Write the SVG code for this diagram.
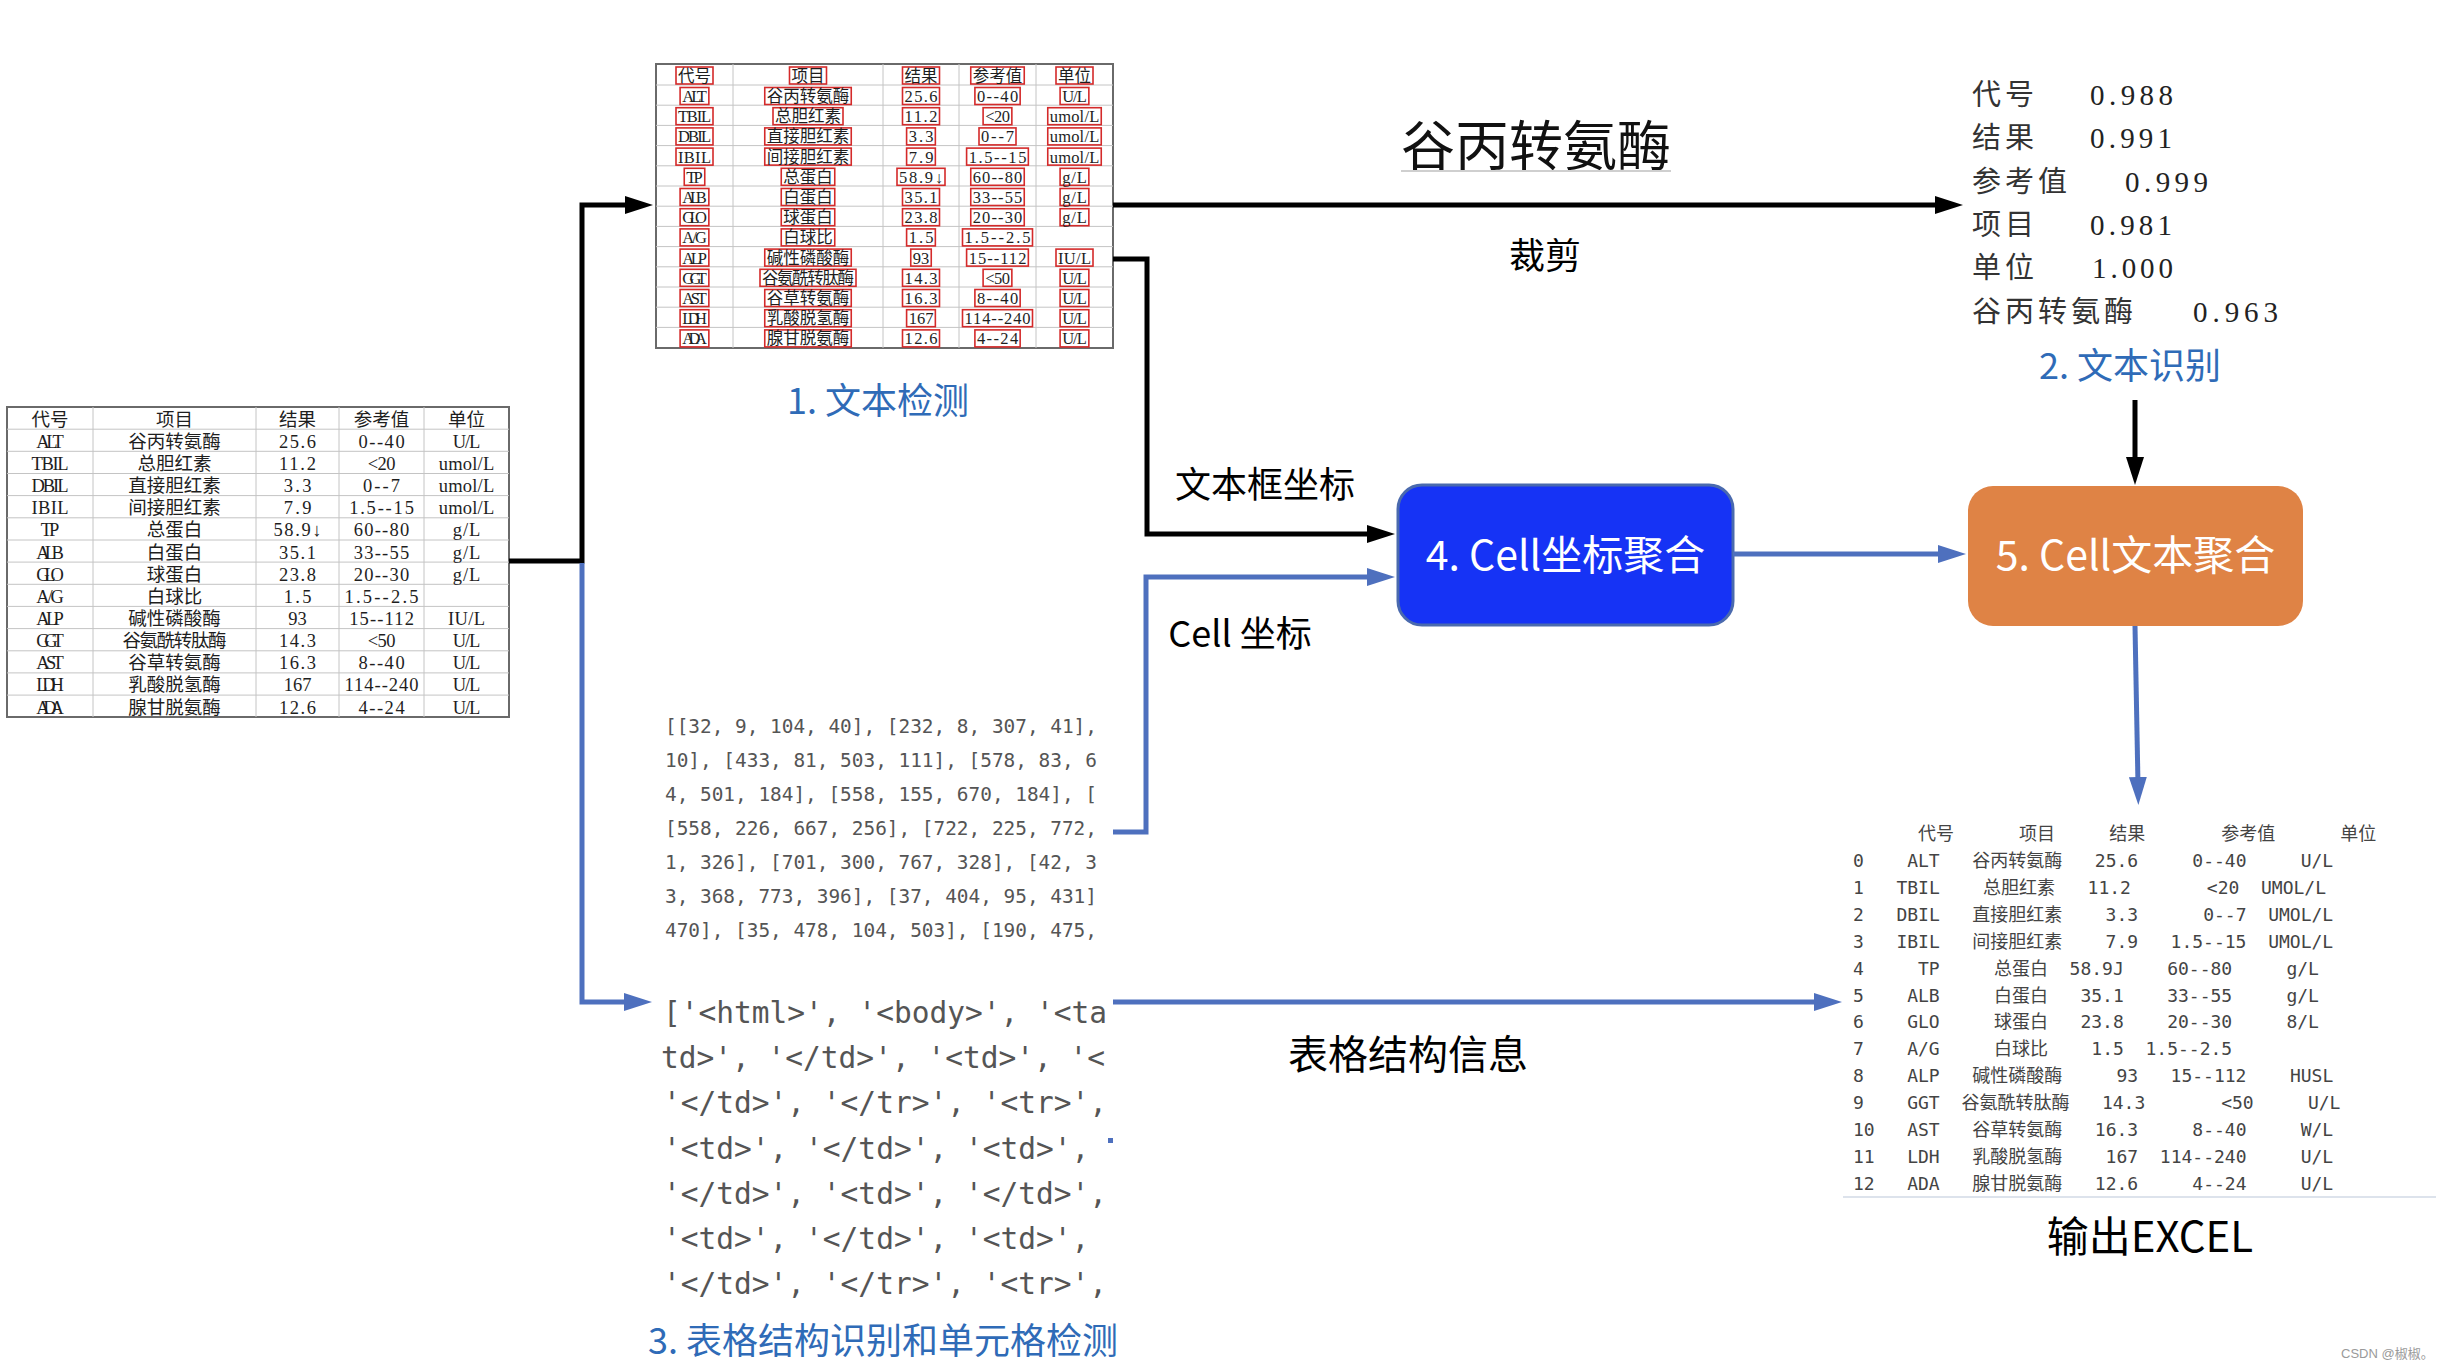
<svg xmlns="http://www.w3.org/2000/svg" width="2446" height="1370" viewBox="0 0 2446 1370">
<style>
.tl{font-family:"Liberation Serif","Noto Sans CJK SC",serif;font-size:18.5px;fill:#1e1e1e;text-anchor:middle}
.tt{font-family:"Liberation Serif","Noto Sans CJK SC",serif;font-size:16.5px;fill:#1e1e1e;text-anchor:middle}
.rb{fill:none;stroke:#d42a2a;stroke-width:1.6}
.grid{stroke:#c4c4c4;stroke-width:1;fill:none}
.frame{fill:#fff;stroke:#6a6a6a;stroke-width:2}
.lbl{font-family:"Noto Sans CJK SC","Noto Sans",sans-serif;font-size:36px;fill:#000;text-anchor:middle}
.step{font-family:"Noto Sans CJK SC","Noto Sans",sans-serif;font-size:36px;fill:#2F6BB7;text-anchor:middle}
.rec{font-family:"Noto Sans CJK SC",sans-serif;font-size:29px;fill:#333;letter-spacing:4px}
.num{font-family:"Liberation Serif",serif;font-size:29px;fill:#222}
.code1{font-family:"DejaVu Sans Mono","Liberation Mono",monospace;font-size:19.4px;fill:#555}
.code2{font-family:"DejaVu Sans Mono","Liberation Mono",monospace;font-size:29.5px;fill:#555}
.xl{font-family:"DejaVu Sans Mono","Noto Sans CJK SC",monospace;font-size:18px;fill:#444}
.ck{stroke:#000;stroke-width:5;fill:none}
.cb{stroke:#4E70BE;stroke-width:5;fill:none}
.boxtxt{font-family:"Noto Sans CJK SC","Noto Sans",sans-serif;font-size:41px;fill:#fff;text-anchor:middle}
</style>
<defs>
<marker id="ak" markerWidth="28" markerHeight="18" refX="8" refY="9" orient="auto" markerUnits="userSpaceOnUse"><path d="M0,0 L28,9 L0,18 z" fill="#000"/></marker>
<marker id="ab" markerWidth="28" markerHeight="18" refX="8" refY="9" orient="auto" markerUnits="userSpaceOnUse"><path d="M0,0 L28,9 L0,18 z" fill="#4E70BE"/></marker>
<clipPath id="clipNum"><rect x="640" y="690" width="457" height="270"/></clipPath>
<clipPath id="clipHtml"><rect x="640" y="985" width="467" height="330"/></clipPath>
</defs>
<rect width="2446" height="1370" fill="#fff"/>

<!-- Input table -->
<g id="input-table">
<rect class="frame" x="7" y="407" width="502" height="310"/>
<path class="grid" d="M7,429.2H509M7,451.3H509M7,473.5H509M7,495.6H509M7,517.8H509M7,540H509M7,562.1H509M7,584.3H509M7,606.4H509M7,628.6H509M7,650.8H509M7,672.9H509M7,695.1H509M93,407V717M256,407V717M339,407V717M424,407V717"/>
<g class="tl">
<g transform="translate(0,425.5)"><text x="50">代号</text><text x="174.5">项目</text><text x="297.5">结果</text><text x="381.5">参考值</text><text x="466.5">单位</text></g>
<g transform="translate(0,447.7)"><text x="50" textLength="27.75">ALT</text><text x="174.5">谷丙转氨酶</text><text x="297.5" textLength="37">25.6</text><text x="381.5" textLength="46.25">0--40</text><text x="466.5" textLength="27.75">U/L</text></g>
<g transform="translate(0,469.8)"><text x="50" textLength="37">TBIL</text><text x="174.5">总胆红素</text><text x="297.5" textLength="37">11.2</text><text x="381.5" textLength="27.75">&lt;20</text><text x="466.5" textLength="55.5">umol/L</text></g>
<g transform="translate(0,492)"><text x="50" textLength="37">DBIL</text><text x="174.5">直接胆红素</text><text x="297.5" textLength="27.75">3.3</text><text x="381.5" textLength="37">0--7</text><text x="466.5" textLength="55.5">umol/L</text></g>
<g transform="translate(0,514.1)"><text x="50" textLength="37">IBIL</text><text x="174.5">间接胆红素</text><text x="297.5" textLength="27.75">7.9</text><text x="381.5" textLength="64.75">1.5--15</text><text x="466.5" textLength="55.5">umol/L</text></g>
<g transform="translate(0,536.3)"><text x="50" textLength="18.5">TP</text><text x="174.5">总蛋白</text><text x="297.5" textLength="48">58.9↓</text><text x="381.5" textLength="55.5">60--80</text><text x="466.5" textLength="27.75">g/L</text></g>
<g transform="translate(0,558.5)"><text x="50" textLength="27.75">ALB</text><text x="174.5">白蛋白</text><text x="297.5" textLength="37">35.1</text><text x="381.5" textLength="55.5">33--55</text><text x="466.5" textLength="27.75">g/L</text></g>
<g transform="translate(0,580.6)"><text x="50" textLength="27.75">GLO</text><text x="174.5">球蛋白</text><text x="297.5" textLength="37">23.8</text><text x="381.5" textLength="55.5">20--30</text><text x="466.5" textLength="27.75">g/L</text></g>
<g transform="translate(0,602.8)"><text x="50" textLength="27.75">A/G</text><text x="174.5">白球比</text><text x="297.5" textLength="27.75">1.5</text><text x="381.5" textLength="74">1.5--2.5</text></g>
<g transform="translate(0,624.9)"><text x="50" textLength="27.75">ALP</text><text x="174.5">碱性磷酸酶</text><text x="297.5" textLength="18.5">93</text><text x="381.5" textLength="64.75">15--112</text><text x="466.5" textLength="37">IU/L</text></g>
<g transform="translate(0,647.1)"><text x="50" textLength="27.75">GGT</text><text x="174.5" textLength="104">谷氨酰转肽酶</text><text x="297.5" textLength="37">14.3</text><text x="381.5" textLength="27.75">&lt;50</text><text x="466.5" textLength="27.75">U/L</text></g>
<g transform="translate(0,669.3)"><text x="50" textLength="27.75">AST</text><text x="174.5">谷草转氨酶</text><text x="297.5" textLength="37">16.3</text><text x="381.5" textLength="46.25">8--40</text><text x="466.5" textLength="27.75">U/L</text></g>
<g transform="translate(0,691.4)"><text x="50" textLength="27.75">LDH</text><text x="174.5">乳酸脱氢酶</text><text x="297.5" textLength="27.75">167</text><text x="381.5" textLength="74">114--240</text><text x="466.5" textLength="27.75">U/L</text></g>
<g transform="translate(0,713.6)"><text x="50" textLength="27.75">ADA</text><text x="174.5">腺甘脱氨酶</text><text x="297.5" textLength="37">12.6</text><text x="381.5" textLength="46.25">4--24</text><text x="466.5" textLength="27.75">U/L</text></g>
</g>
</g>

<!-- Step 1: text detection -->
<g id="step1-text-detection">
<rect class="frame" x="656" y="64" width="457" height="284"/>
<path class="grid" d="M656,85H1113M656,105.2H1113M656,125.4H1113M656,145.6H1113M656,165.8H1113M656,186H1113M656,206.2H1113M656,226.4H1113M656,246.6H1113M656,266.8H1113M656,287H1113M656,307.2H1113M656,327.4H1113M733,64V348M883,64V348M959,64V348M1036,64V348"/>
<g class="tt">
<g transform="translate(0,64)"><rect class="rb" x="676" y="3" width="37" height="17"/><rect class="rb" x="789.5" y="3" width="37" height="17"/><rect class="rb" x="902.5" y="3" width="37" height="17"/><rect class="rb" x="970.75" y="3" width="53.5" height="17"/><rect class="rb" x="1056" y="3" width="37" height="17"/><text x="694.5" y="18">代号</text><text x="808" y="18">项目</text><text x="921" y="18">结果</text><text x="997.5" y="18">参考值</text><text x="1074.5" y="18">单位</text></g>
<g transform="translate(0,85)"><rect class="rb" x="680.1" y="2.5" width="28.75" height="17"/><rect class="rb" x="764.75" y="2.5" width="86.5" height="17"/><rect class="rb" x="902.5" y="2.5" width="37" height="17"/><rect class="rb" x="974.9" y="2.5" width="45.25" height="17"/><rect class="rb" x="1060.1" y="2.5" width="28.75" height="17"/><text x="694.5" y="17" textLength="24.75">ALT</text><text x="808" y="17">谷丙转氨酶</text><text x="921" y="17" textLength="33">25.6</text><text x="997.5" y="17" textLength="41.25">0--40</text><text x="1074.5" y="17" textLength="24.75">U/L</text></g>
<g transform="translate(0,105.2)"><rect class="rb" x="676" y="2.5" width="37" height="17"/><rect class="rb" x="773" y="2.5" width="70" height="17"/><rect class="rb" x="902.5" y="2.5" width="37" height="17"/><rect class="rb" x="983.1" y="2.5" width="28.75" height="17"/><rect class="rb" x="1047.75" y="2.5" width="53.5" height="17"/><text x="694.5" y="17" textLength="33">TBIL</text><text x="808" y="17">总胆红素</text><text x="921" y="17" textLength="33">11.2</text><text x="997.5" y="17" textLength="24.75">&lt;20</text><text x="1074.5" y="17" textLength="49.5">umol/L</text></g>
<g transform="translate(0,125.4)"><rect class="rb" x="676" y="2.5" width="37" height="17"/><rect class="rb" x="764.75" y="2.5" width="86.5" height="17"/><rect class="rb" x="906.6" y="2.5" width="28.75" height="17"/><rect class="rb" x="979" y="2.5" width="37" height="17"/><rect class="rb" x="1047.75" y="2.5" width="53.5" height="17"/><text x="694.5" y="17" textLength="33">DBIL</text><text x="808" y="17">直接胆红素</text><text x="921" y="17" textLength="24.75">3.3</text><text x="997.5" y="17" textLength="33">0--7</text><text x="1074.5" y="17" textLength="49.5">umol/L</text></g>
<g transform="translate(0,145.6)"><rect class="rb" x="676" y="2.5" width="37" height="17"/><rect class="rb" x="764.75" y="2.5" width="86.5" height="17"/><rect class="rb" x="906.6" y="2.5" width="28.75" height="17"/><rect class="rb" x="966.6" y="2.5" width="61.75" height="17"/><rect class="rb" x="1047.75" y="2.5" width="53.5" height="17"/><text x="694.5" y="17" textLength="33">IBIL</text><text x="808" y="17">间接胆红素</text><text x="921" y="17" textLength="24.75">7.9</text><text x="997.5" y="17" textLength="57.75">1.5--15</text><text x="1074.5" y="17" textLength="49.5">umol/L</text></g>
<g transform="translate(0,165.8)"><rect class="rb" x="684.25" y="2.5" width="20.5" height="17"/><rect class="rb" x="781.25" y="2.5" width="53.5" height="17"/><rect class="rb" x="897" y="2.5" width="48" height="17"/><rect class="rb" x="970.75" y="2.5" width="53.5" height="17"/><rect class="rb" x="1060.1" y="2.5" width="28.75" height="17"/><text x="694.5" y="17" textLength="16.5">TP</text><text x="808" y="17">总蛋白</text><text x="921" y="17" textLength="44">58.9↓</text><text x="997.5" y="17" textLength="49.5">60--80</text><text x="1074.5" y="17" textLength="24.75">g/L</text></g>
<g transform="translate(0,186)"><rect class="rb" x="680.1" y="2.5" width="28.75" height="17"/><rect class="rb" x="781.25" y="2.5" width="53.5" height="17"/><rect class="rb" x="902.5" y="2.5" width="37" height="17"/><rect class="rb" x="970.75" y="2.5" width="53.5" height="17"/><rect class="rb" x="1060.1" y="2.5" width="28.75" height="17"/><text x="694.5" y="17" textLength="24.75">ALB</text><text x="808" y="17">白蛋白</text><text x="921" y="17" textLength="33">35.1</text><text x="997.5" y="17" textLength="49.5">33--55</text><text x="1074.5" y="17" textLength="24.75">g/L</text></g>
<g transform="translate(0,206.2)"><rect class="rb" x="680.1" y="2.5" width="28.75" height="17"/><rect class="rb" x="781.25" y="2.5" width="53.5" height="17"/><rect class="rb" x="902.5" y="2.5" width="37" height="17"/><rect class="rb" x="970.75" y="2.5" width="53.5" height="17"/><rect class="rb" x="1060.1" y="2.5" width="28.75" height="17"/><text x="694.5" y="17" textLength="24.75">GLO</text><text x="808" y="17">球蛋白</text><text x="921" y="17" textLength="33">23.8</text><text x="997.5" y="17" textLength="49.5">20--30</text><text x="1074.5" y="17" textLength="24.75">g/L</text></g>
<g transform="translate(0,226.4)"><rect class="rb" x="680.1" y="2.5" width="28.75" height="17"/><rect class="rb" x="781.25" y="2.5" width="53.5" height="17"/><rect class="rb" x="906.6" y="2.5" width="28.75" height="17"/><rect class="rb" x="962.5" y="2.5" width="70" height="17"/><text x="694.5" y="17" textLength="24.75">A/G</text><text x="808" y="17">白球比</text><text x="921" y="17" textLength="24.75">1.5</text><text x="997.5" y="17" textLength="66">1.5--2.5</text></g>
<g transform="translate(0,246.6)"><rect class="rb" x="680.1" y="2.5" width="28.75" height="17"/><rect class="rb" x="764.75" y="2.5" width="86.5" height="17"/><rect class="rb" x="910.75" y="2.5" width="20.5" height="17"/><rect class="rb" x="966.6" y="2.5" width="61.75" height="17"/><rect class="rb" x="1056" y="2.5" width="37" height="17"/><text x="694.5" y="17" textLength="24.75">ALP</text><text x="808" y="17">碱性磷酸酶</text><text x="921" y="17" textLength="16.5">93</text><text x="997.5" y="17" textLength="57.75">15--112</text><text x="1074.5" y="17" textLength="33">IU/L</text></g>
<g transform="translate(0,266.8)"><rect class="rb" x="680.1" y="2.5" width="28.75" height="17"/><rect class="rb" x="760" y="2.5" width="96" height="17"/><rect class="rb" x="902.5" y="2.5" width="37" height="17"/><rect class="rb" x="983.1" y="2.5" width="28.75" height="17"/><rect class="rb" x="1060.1" y="2.5" width="28.75" height="17"/><text x="694.5" y="17" textLength="24.75">GGT</text><text x="808" y="17" textLength="92">谷氨酰转肽酶</text><text x="921" y="17" textLength="33">14.3</text><text x="997.5" y="17" textLength="24.75">&lt;50</text><text x="1074.5" y="17" textLength="24.75">U/L</text></g>
<g transform="translate(0,287)"><rect class="rb" x="680.1" y="2.5" width="28.75" height="17"/><rect class="rb" x="764.75" y="2.5" width="86.5" height="17"/><rect class="rb" x="902.5" y="2.5" width="37" height="17"/><rect class="rb" x="974.9" y="2.5" width="45.25" height="17"/><rect class="rb" x="1060.1" y="2.5" width="28.75" height="17"/><text x="694.5" y="17" textLength="24.75">AST</text><text x="808" y="17">谷草转氨酶</text><text x="921" y="17" textLength="33">16.3</text><text x="997.5" y="17" textLength="41.25">8--40</text><text x="1074.5" y="17" textLength="24.75">U/L</text></g>
<g transform="translate(0,307.2)"><rect class="rb" x="680.1" y="2.5" width="28.75" height="17"/><rect class="rb" x="764.75" y="2.5" width="86.5" height="17"/><rect class="rb" x="906.6" y="2.5" width="28.75" height="17"/><rect class="rb" x="962.5" y="2.5" width="70" height="17"/><rect class="rb" x="1060.1" y="2.5" width="28.75" height="17"/><text x="694.5" y="17" textLength="24.75">LDH</text><text x="808" y="17">乳酸脱氢酶</text><text x="921" y="17" textLength="24.75">167</text><text x="997.5" y="17" textLength="66">114--240</text><text x="1074.5" y="17" textLength="24.75">U/L</text></g>
<g transform="translate(0,327.4)"><rect class="rb" x="680.1" y="2.5" width="28.75" height="17"/><rect class="rb" x="764.75" y="2.5" width="86.5" height="17"/><rect class="rb" x="902.5" y="2.5" width="37" height="17"/><rect class="rb" x="974.9" y="2.5" width="45.25" height="17"/><rect class="rb" x="1060.1" y="2.5" width="28.75" height="17"/><text x="694.5" y="17" textLength="24.75">ADA</text><text x="808" y="17">腺甘脱氨酶</text><text x="921" y="17" textLength="33">12.6</text><text x="997.5" y="17" textLength="41.25">4--24</text><text x="1074.5" y="17" textLength="24.75">U/L</text></g>
</g>
<text class="step" x="878" y="414">1. 文本检测</text>
</g>

<!-- Cropped sample -->
<g id="crop-sample">
<text x="1401" y="166" font-family="Noto Sans CJK SC, sans-serif" font-size="54" fill="#111" textLength="270">谷丙转氨酶</text>
<line x1="1401" y1="171" x2="1671" y2="171" stroke="#cfcfcf" stroke-width="2"/>
</g>

<!-- Step 2: text recognition -->
<g id="step2-text-recognition">
<text class="rec" x="1972" y="105">代号</text><text class="num" x="2090" y="105" textLength="83">0.988</text>
<text class="rec" x="1972" y="148">结果</text><text class="num" x="2090" y="148" textLength="82">0.991</text>
<text class="rec" x="1972" y="192">参考值</text><text class="num" x="2125" y="192" textLength="83">0.999</text>
<text class="rec" x="1972" y="235">项目</text><text class="num" x="2090" y="235" textLength="82">0.981</text>
<text class="rec" x="1972" y="278">单位</text><text class="num" x="2092" y="278" textLength="81">1.000</text>
<text class="rec" x="1972" y="322">谷丙转氨酶</text><text class="num" x="2193" y="322" textLength="85">0.963</text>
<text class="step" x="2130" y="379">2. 文本识别</text>
</g>

<!-- Step 3: structure recognition -->
<g id="step3-structure">
<g class="code1" clip-path="url(#clipNum)">
<text x="665" y="733">[[32, 9, 104, 40], [232, 8, 307, 41],</text>
<text x="665" y="767">10], [433, 81, 503, 111], [578, 83, 6</text>
<text x="665" y="801">4, 501, 184], [558, 155, 670, 184], [</text>
<text x="665" y="835">[558, 226, 667, 256], [722, 225, 772,</text>
<text x="665" y="869">1, 326], [701, 300, 767, 328], [42, 3</text>
<text x="665" y="903">3, 368, 773, 396], [37, 404, 95, 431]</text>
<text x="665" y="937">470], [35, 478, 104, 503], [190, 475,</text>
</g>
<g class="code2" clip-path="url(#clipHtml)">
<text x="663" y="1023">['&lt;html&gt;', '&lt;body&gt;', '&lt;ta</text>
<text x="661" y="1068.2">td&gt;', '&lt;/td&gt;', '&lt;td&gt;', '&lt;</text>
<text x="663" y="1113.4">'&lt;/td&gt;', '&lt;/tr&gt;', '&lt;tr&gt;',</text>
<text x="663" y="1158.6">'&lt;td&gt;', '&lt;/td&gt;', '&lt;td&gt;',</text>
<text x="663" y="1203.8">'&lt;/td&gt;', '&lt;td&gt;', '&lt;/td&gt;',</text>
<text x="663" y="1249">'&lt;td&gt;', '&lt;/td&gt;', '&lt;td&gt;',</text>
<text x="663" y="1294.2">'&lt;/td&gt;', '&lt;/tr&gt;', '&lt;tr&gt;',</text>
</g>
<rect x="1108" y="1138" width="5" height="5" fill="#4E70BE"/>
<text class="step" x="883" y="1354">3. 表格结构识别和单元格检测</text>
</g>

<!-- Step 4 -->
<g id="step4-cell-coord">
<rect x="1398" y="485" width="335" height="140" rx="24" fill="#1633F5" stroke="#4A6AAE" stroke-width="3"/>
<text class="boxtxt" x="1565.5" y="570">4. Cell坐标聚合</text>
</g>

<!-- Step 5 -->
<g id="step5-cell-text">
<rect x="1968" y="486" width="335" height="140" rx="25" fill="#DF8345"/>
<text class="boxtxt" x="2135.5" y="570">5. Cell文本聚合</text>
</g>

<!-- Output excel -->
<g id="output-excel">
<g class="xl">
<text y="840"><tspan x="1918">代号</tspan><tspan x="2019.1">项目</tspan><tspan x="2109.3">结果</tspan><tspan x="2221.2">参考值</tspan><tspan x="2340.2">单位</tspan></text>
<text y="867"><tspan x="1853">0</tspan><tspan x="1907.2">ALT</tspan><tspan x="1972.2">谷丙转氨酶</tspan><tspan x="2094.8">25.6</tspan><tspan x="2192.3">0--40</tspan><tspan x="2300.7">U/L</tspan></text>
<text y="893.9"><tspan x="1853">1</tspan><tspan x="1896.4">TBIL</tspan><tspan x="1983.1">总胆红素</tspan><tspan x="2087.6">11.2</tspan><tspan x="2206.8">&lt;20</tspan><tspan x="2261">UMOL/L</tspan></text>
<text y="920.8"><tspan x="1853">2</tspan><tspan x="1896.4">DBIL</tspan><tspan x="1972.2">直接胆红素</tspan><tspan x="2105.6">3.3</tspan><tspan x="2203.2">0--7</tspan><tspan x="2268.2">UMOL/L</tspan></text>
<text y="947.7"><tspan x="1853">3</tspan><tspan x="1896.4">IBIL</tspan><tspan x="1972.2">间接胆红素</tspan><tspan x="2105.6">7.9</tspan><tspan x="2170.6">1.5--15</tspan><tspan x="2268.2">UMOL/L</tspan></text>
<text y="974.6"><tspan x="1853">4</tspan><tspan x="1918">TP</tspan><tspan x="1993.9">总蛋白</tspan><tspan x="2069.6">58.9J</tspan><tspan x="2167.2">60--80</tspan><tspan x="2286.4">g/L</tspan></text>
<text y="1001.5"><tspan x="1853">5</tspan><tspan x="1907.2">ALB</tspan><tspan x="1993.9">白蛋白</tspan><tspan x="2080.4">35.1</tspan><tspan x="2167.2">33--55</tspan><tspan x="2286.4">g/L</tspan></text>
<text y="1028.4"><tspan x="1853">6</tspan><tspan x="1907.2">GLO</tspan><tspan x="1993.9">球蛋白</tspan><tspan x="2080.4">23.8</tspan><tspan x="2167.2">20--30</tspan><tspan x="2286.4">8/L</tspan></text>
<text y="1055.3"><tspan x="1853">7</tspan><tspan x="1907.2">A/G</tspan><tspan x="1993.9">白球比</tspan><tspan x="2091.3">1.5</tspan><tspan x="2145.5">1.5--2.5</tspan></text>
<text y="1082.2"><tspan x="1853">8</tspan><tspan x="1907.2">ALP</tspan><tspan x="1972.2">碱性磷酸酶</tspan><tspan x="2116.4">93</tspan><tspan x="2170.6">15--112</tspan><tspan x="2289.9">HUSL</tspan></text>
<text y="1109.1"><tspan x="1853">9</tspan><tspan x="1907.2">GGT</tspan><tspan x="1961.4">谷氨酰转肽酶</tspan><tspan x="2101.9">14.3</tspan><tspan x="2221.2">&lt;50</tspan><tspan x="2307.9">U/L</tspan></text>
<text y="1136"><tspan x="1853">10</tspan><tspan x="1907.2">AST</tspan><tspan x="1972.2">谷草转氨酶</tspan><tspan x="2094.8">16.3</tspan><tspan x="2192.3">8--40</tspan><tspan x="2300.7">W/L</tspan></text>
<text y="1162.9"><tspan x="1853">11</tspan><tspan x="1907.2">LDH</tspan><tspan x="1972.2">乳酸脱氢酶</tspan><tspan x="2105.6">167</tspan><tspan x="2159.8">114--240</tspan><tspan x="2300.7">U/L</tspan></text>
<text y="1189.8"><tspan x="1853">12</tspan><tspan x="1907.2">ADA</tspan><tspan x="1972.2">腺甘脱氨酶</tspan><tspan x="2094.8">12.6</tspan><tspan x="2192.3">4--24</tspan><tspan x="2300.7">U/L</tspan></text>
</g>
<line x1="1843" y1="1197" x2="2436" y2="1197" stroke="#dde3ec" stroke-width="2"/>
<text x="2150" y="1252" font-family="Noto Sans CJK SC, Noto Sans, sans-serif" font-size="42" fill="#000" text-anchor="middle">输出EXCEL</text>
</g>

<!-- Connectors -->
<g id="connectors">
<path class="ck" d="M509,561 H582 V205 H633" marker-end="url(#ak)"/>
<path class="cb" d="M582,563 V1002 H632" marker-end="url(#ab)"/>
<path class="ck" d="M1113,205 H1943" marker-end="url(#ak)"/>
<path class="ck" d="M1113,259 H1147 V534 H1375" marker-end="url(#ak)"/>
<path class="cb" d="M1113,832 H1146 V577 H1375" marker-end="url(#ab)"/>
<path class="cb" d="M1733,554 H1946" marker-end="url(#ab)"/>
<path class="cb" d="M1113,1002 H1822" marker-end="url(#ab)"/>
<path class="ck" d="M2135,400 V465" marker-end="url(#ak)"/>
<path class="cb" d="M2135,626 L2138,785" marker-end="url(#ab)"/>
</g>

<!-- Connector labels -->
<g id="connector-labels">
<text class="lbl" x="1545" y="269" font-size="37">裁剪</text>
<text class="lbl" x="1265" y="498">文本框坐标</text>
<text class="lbl" x="1240" y="647">Cell 坐标</text>
<text class="lbl" x="1408" y="1069" style="font-size:40px">表格结构信息</text>
</g>

<text x="2341" y="1358" font-family="Liberation Sans, Noto Sans CJK SC, sans-serif" font-size="13" fill="#9a9a9a">CSDN @椒椒。</text>
</svg>
